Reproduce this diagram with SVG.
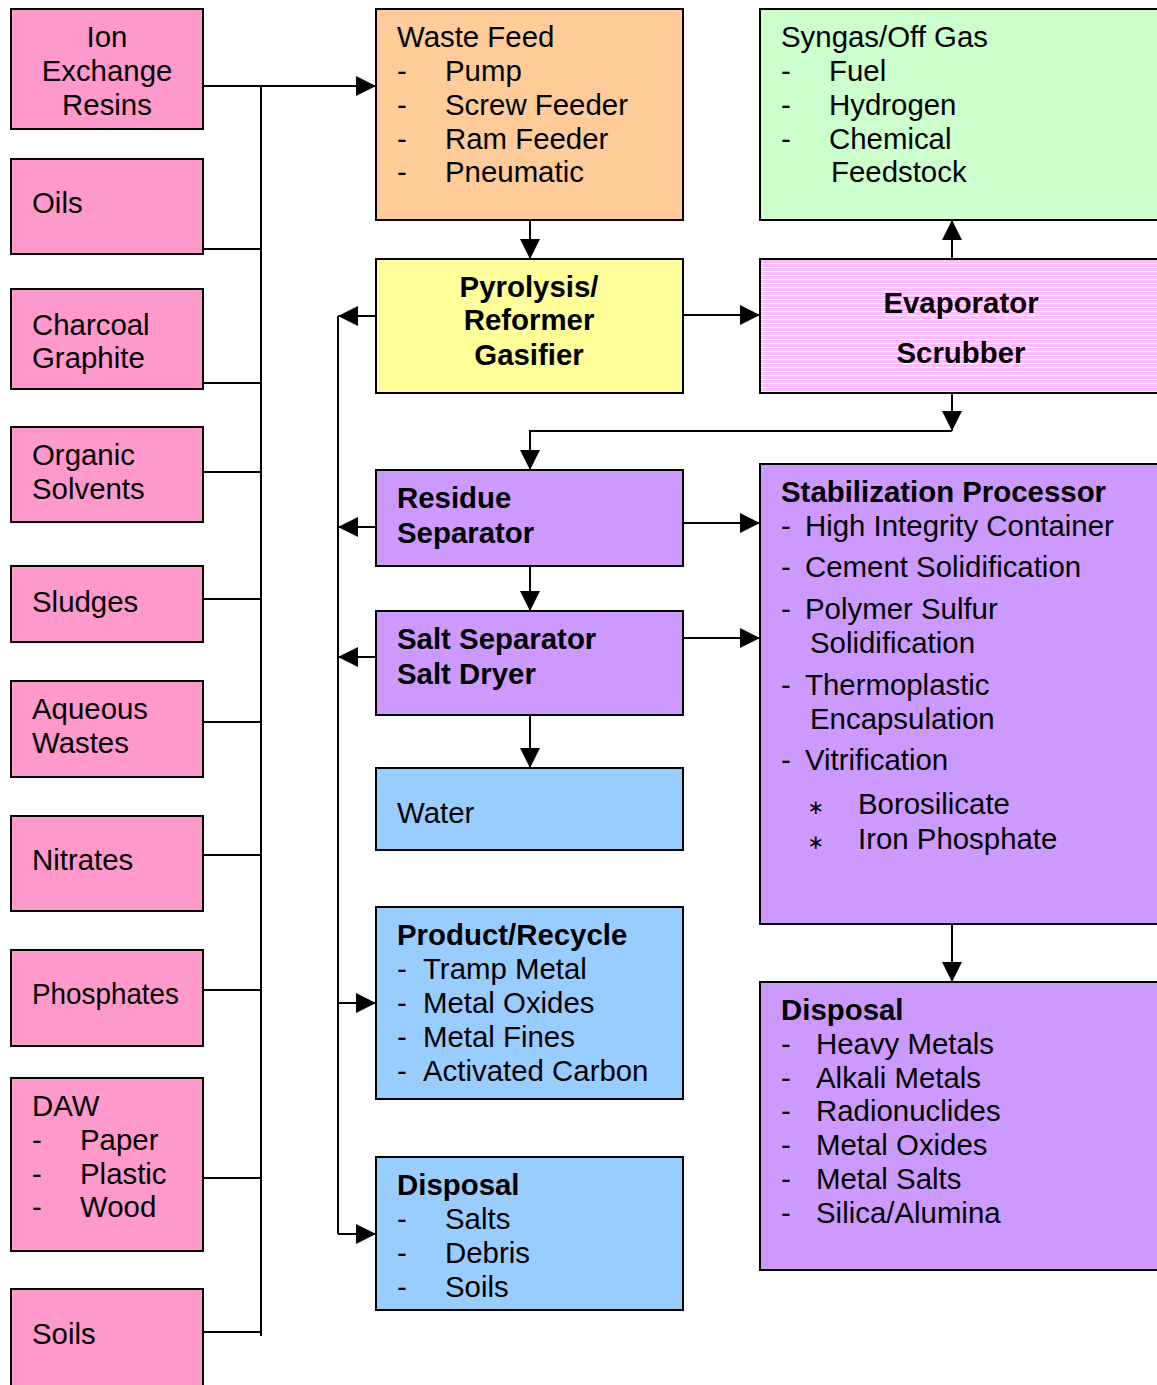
<svg xmlns="http://www.w3.org/2000/svg" width="1157" height="1385" viewBox="0 0 1157 1385">
<style>
text{font-family:"Liberation Sans",Arial,sans-serif;font-size:29.4px;fill:#000}
.b{font-weight:bold}
.m{text-anchor:middle}
.box{stroke:#000;stroke-width:2}
.pk{fill:#FF99CC}.or{fill:#FFCC99}.gr{fill:#CCFFCC}.ye{fill:#FFFF99}.pu{fill:#CC99FF}.bl{fill:#99CCFF}
.ln{fill:none;stroke:#000;stroke-width:2}
.ar{marker-end:url(#ah)}
.ast{font-family:"DejaVu Sans",sans-serif;font-size:20px}
</style>
<defs>
<marker id="ah" viewBox="0 0 20 20" refX="20" refY="10" markerWidth="20" markerHeight="20" markerUnits="userSpaceOnUse" orient="auto"><path d="M0,0 L20,10 L0,20 Z" fill="#000"/></marker>
<pattern id="stripe" width="8" height="4" patternUnits="userSpaceOnUse"><rect width="8" height="4" fill="#FFFFFF"/><rect width="8" height="3" fill="#FFBBFF"/></pattern>
</defs>
<g id="connectors">
<path class="ln" d="M261,86 V1336"/>
<path class="ln ar" d="M203,86 H376"/>
<path class="ln" d="M203,249 H261 M203,383 H261 M203,472 H261 M203,599 H261 M203,722 H261 M203,855 H261 M203,990 H261 M203,1178 H261 M203,1332 H261"/>
<path class="ln ar" d="M530,220 V259"/>
<path class="ln ar" d="M683,315 H760"/>
<path class="ln ar" d="M952,259 V220"/>
<path class="ln ar" d="M952,393 V431"/>
<path class="ln ar" d="M952,431 H530 V470"/>
<path class="ln ar" d="M376,316 H338"/>
<path class="ln" d="M338,316 V1234"/>
<path class="ln ar" d="M376,527 H338"/>
<path class="ln ar" d="M376,657 H338"/>
<path class="ln ar" d="M338,1003 H376"/>
<path class="ln ar" d="M338,1234 H376"/>
<path class="ln ar" d="M530,566 V611"/>
<path class="ln ar" d="M530,715 V768"/>
<path class="ln ar" d="M683,523 H760"/>
<path class="ln ar" d="M683,638 H760"/>
<path class="ln ar" d="M952,924 V982"/>
</g>
<g id="ion"><rect class="box pk" x="11" y="9" width="192" height="120"/><text class="m" x="107" y="47">Ion</text><text class="m" x="107" y="81">Exchange</text><text class="m" x="107" y="115">Resins</text></g>
<g id="oils"><rect class="box pk" x="11" y="159" width="192" height="95"/><text x="32" y="213">Oils</text></g>
<g id="charcoal"><rect class="box pk" x="11" y="289" width="192" height="100"/><text x="32" y="335">Charcoal</text><text x="32" y="368">Graphite</text></g>
<g id="organic"><rect class="box pk" x="11" y="427" width="192" height="95"/><text x="32" y="465">Organic</text><text x="32" y="499">Solvents</text></g>
<g id="sludges"><rect class="box pk" x="11" y="566" width="192" height="76"/><text x="32" y="612">Sludges</text></g>
<g id="aqueous"><rect class="box pk" x="11" y="681" width="192" height="96"/><text x="32" y="719">Aqueous</text><text x="32" y="753">Wastes</text></g>
<g id="nitrates"><rect class="box pk" x="11" y="816" width="192" height="95"/><text x="32" y="870">Nitrates</text></g>
<g id="phosphates"><rect class="box pk" x="11" y="950" width="192" height="96"/><text x="32" y="1004" textLength="147" lengthAdjust="spacingAndGlyphs">Phosphates</text></g>
<g id="daw"><rect class="box pk" x="11" y="1078" width="192" height="173"/><text x="32" y="1116">DAW</text><text x="32" y="1150">-</text><text x="80" y="1150">Paper</text><text x="32" y="1184">-</text><text x="80" y="1184">Plastic</text><text x="32" y="1217">-</text><text x="80" y="1217">Wood</text></g>
<g id="soils"><rect class="box pk" x="11" y="1289" width="192" height="110"/><text x="32" y="1344">Soils</text></g>
<g id="wastefeed"><rect class="box or" x="376" y="9" width="307" height="211"/><text x="397" y="47">Waste Feed</text><text x="397" y="81">-</text><text x="445" y="81">Pump</text><text x="397" y="115">-</text><text x="445" y="115">Screw Feeder</text><text x="397" y="149">-</text><text x="445" y="149">Ram Feeder</text><text x="397" y="182">-</text><text x="445" y="182">Pneumatic</text></g>
<g id="syngas"><rect class="box gr" x="760" y="9" width="410" height="211"/><text x="781" y="47">Syngas/Off Gas</text><text x="781" y="81">-</text><text x="829" y="81">Fuel</text><text x="781" y="115">-</text><text x="829" y="115">Hydrogen</text><text x="781" y="149">-</text><text x="829" y="149">Chemical</text><text x="831" y="182">Feedstock</text></g>
<g id="pyrolysis"><rect class="box ye" x="376" y="259" width="307" height="134"/><text class="b m" x="529" y="297">Pyrolysis/</text><text class="b m" x="529" y="330">Reformer</text><text class="b m" x="529" y="365">Gasifier</text></g>
<g id="evaporator"><rect class="box" fill="url(#stripe)" x="760" y="259" width="410" height="134"/><text class="b m" x="961" y="313">Evaporator</text><text class="b m" x="961" y="363">Scrubber</text></g>
<g id="residue"><rect class="box pu" x="376" y="470" width="307" height="96"/><text class="b" x="397" y="508">Residue</text><text class="b" x="397" y="543">Separator</text></g>
<g id="salt"><rect class="box pu" x="376" y="611" width="307" height="104"/><text class="b" x="397" y="649">Salt Separator</text><text class="b" x="397" y="684">Salt Dryer</text></g>
<g id="water"><rect class="box bl" x="376" y="768" width="307" height="82"/><text x="397" y="823">Water</text></g>
<g id="product"><rect class="box bl" x="376" y="907" width="307" height="192"/><text class="b" x="397" y="945">Product/Recycle</text><text x="397" y="979">-</text><text x="423" y="979">Tramp Metal</text><text x="397" y="1013">-</text><text x="423" y="1013">Metal Oxides</text><text x="397" y="1047">-</text><text x="423" y="1047">Metal Fines</text><text x="397" y="1081">-</text><text x="423" y="1081">Activated Carbon</text></g>
<g id="disposal1"><rect class="box bl" x="376" y="1157" width="307" height="153"/><text class="b" x="397" y="1195">Disposal</text><text x="397" y="1229">-</text><text x="445" y="1229">Salts</text><text x="397" y="1263">-</text><text x="445" y="1263">Debris</text><text x="397" y="1297">-</text><text x="445" y="1297">Soils</text></g>
<g id="stabilization"><rect class="box pu" x="760" y="464" width="410" height="460"/><text class="b" x="781" y="502">Stabilization Processor</text><text x="781" y="536">-</text><text x="805" y="536">High Integrity Container</text><text x="781" y="577">-</text><text x="805" y="577">Cement Solidification</text><text x="781" y="619">-</text><text x="805" y="619">Polymer Sulfur</text><text x="810" y="653">Solidification</text><text x="781" y="695">-</text><text x="805" y="695">Thermoplastic</text><text x="810" y="729">Encapsulation</text><text x="781" y="770">-</text><text x="805" y="770">Vitrification</text><text class="ast m" x="816" y="814">∗</text><text x="858" y="814">Borosilicate</text><text class="ast m" x="816" y="849">∗</text><text x="858" y="849">Iron Phosphate</text></g>
<g id="disposal2"><rect class="box pu" x="760" y="982" width="410" height="288"/><text class="b" x="781" y="1020">Disposal</text><text x="781" y="1054">-</text><text x="816" y="1054">Heavy Metals</text><text x="781" y="1088">-</text><text x="816" y="1088">Alkali Metals</text><text x="781" y="1121">-</text><text x="816" y="1121">Radionuclides</text><text x="781" y="1155">-</text><text x="816" y="1155">Metal Oxides</text><text x="781" y="1189">-</text><text x="816" y="1189">Metal Salts</text><text x="781" y="1223">-</text><text x="816" y="1223">Silica/Alumina</text></g>
</svg>
